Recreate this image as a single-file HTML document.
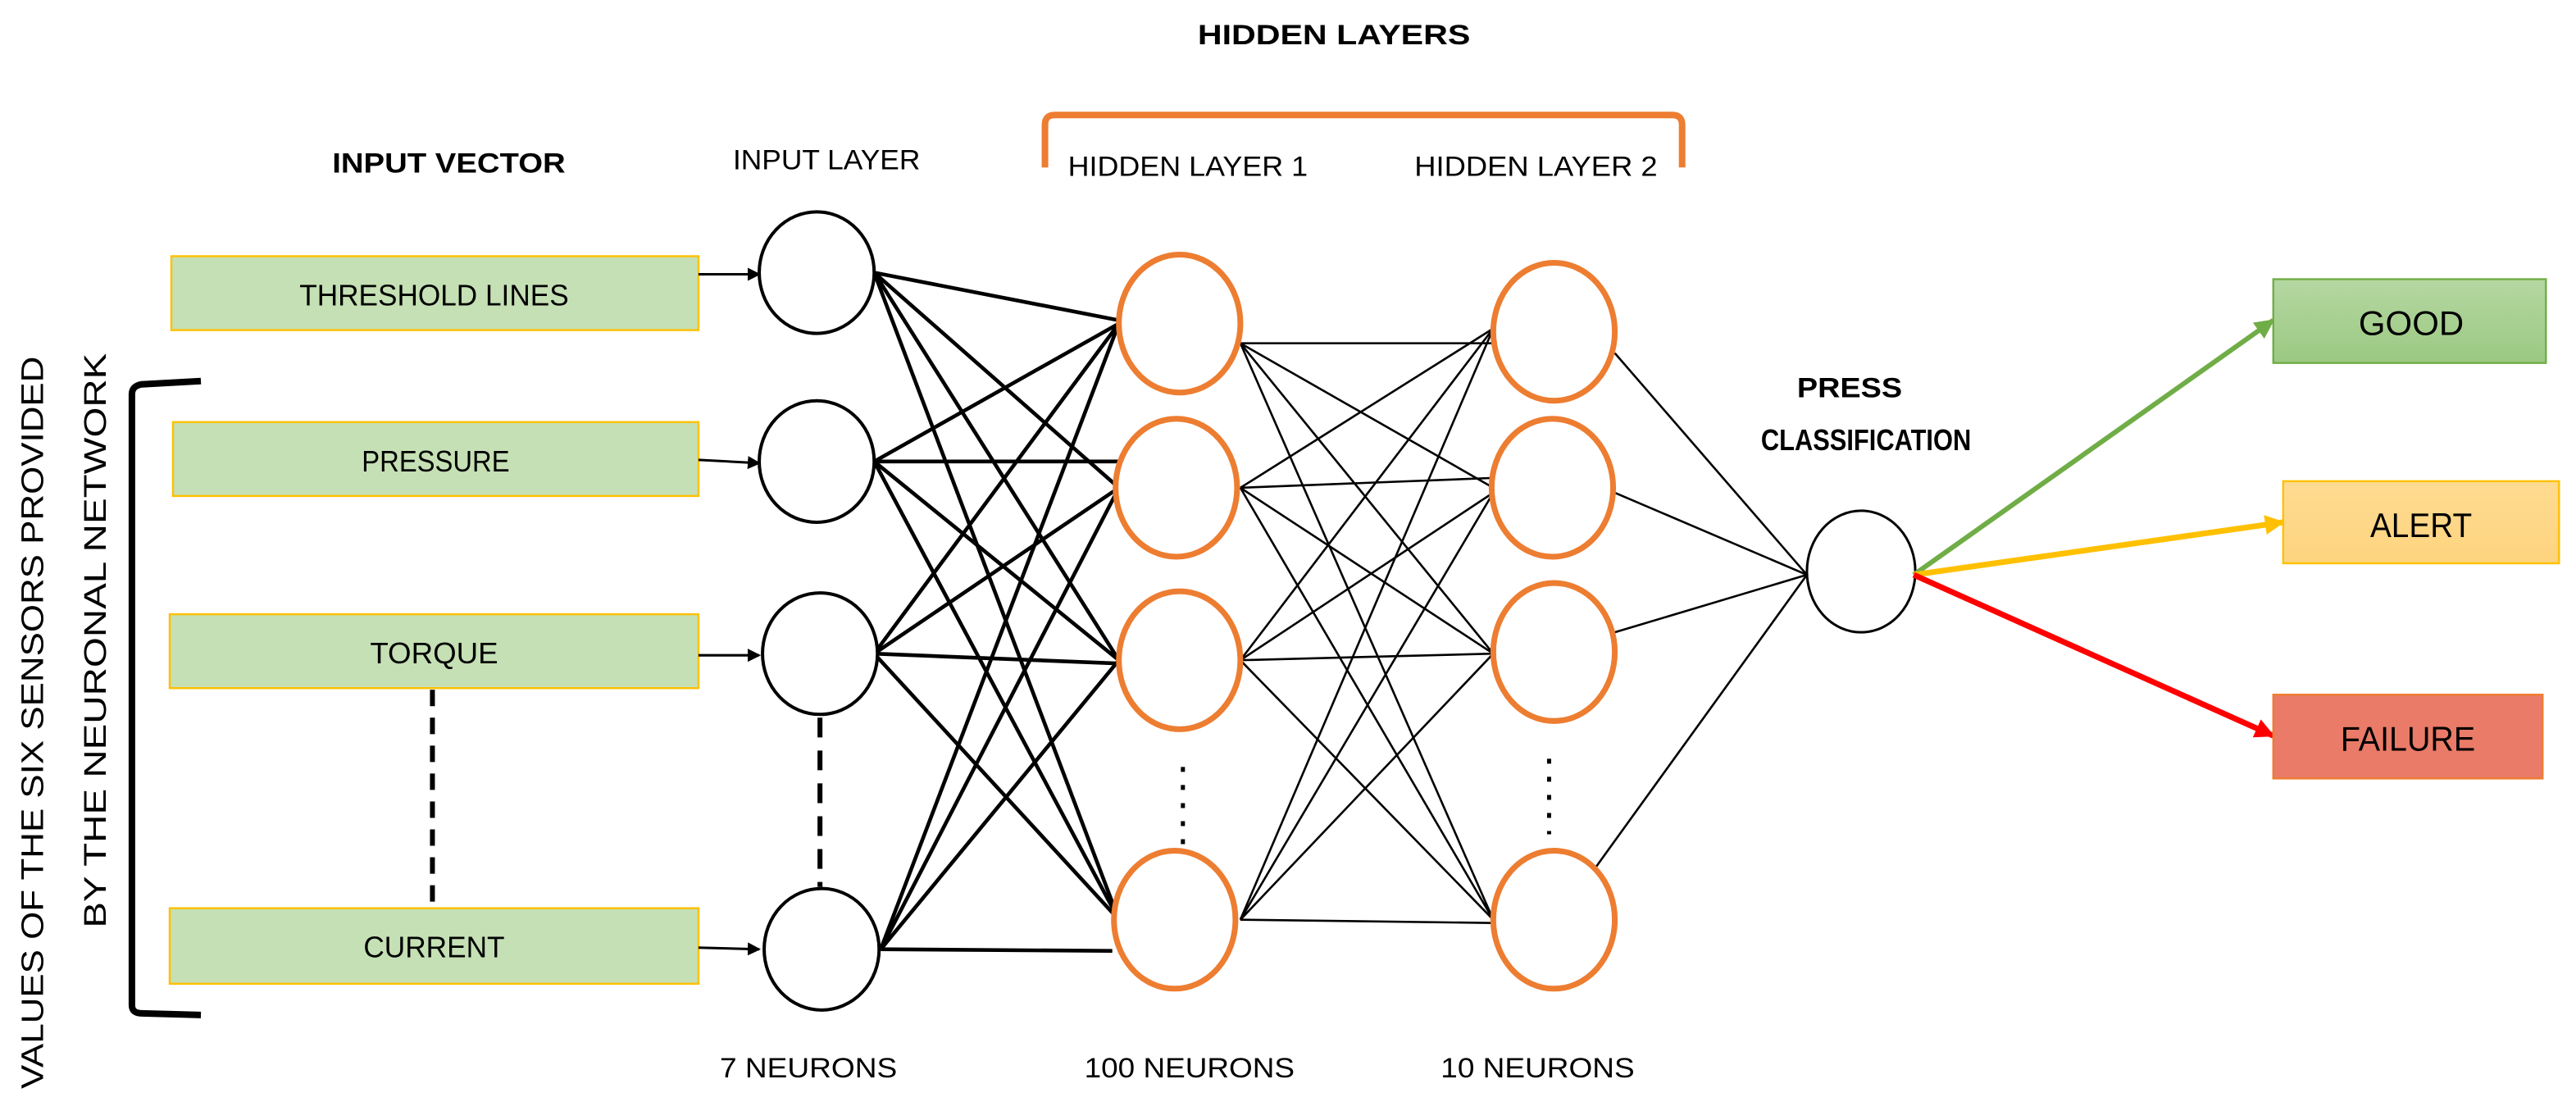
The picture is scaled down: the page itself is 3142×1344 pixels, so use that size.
<!DOCTYPE html>
<html><head><meta charset="utf-8"><style>
html,body{margin:0;padding:0;background:#fff;}
svg{display:block;}
text{font-family:"Liberation Sans",sans-serif;fill:#000;}
</style></head><body>
<svg width="3142" height="1344" viewBox="0 0 1568 671" xmlns="http://www.w3.org/2000/svg">
<defs>
<marker id="ab" markerWidth="8" markerHeight="8" refX="7" refY="4" orient="auto" markerUnits="userSpaceOnUse"><path d="M0,0 L8,4 L0,8 z" fill="#000"/></marker>
<marker id="ag" markerWidth="12" markerHeight="12" refX="11" refY="6" orient="auto" markerUnits="userSpaceOnUse"><path d="M0,0 L12,6 L0,12 z" fill="#70ad47"/></marker>
<marker id="ay" markerWidth="12" markerHeight="12" refX="11" refY="6" orient="auto" markerUnits="userSpaceOnUse"><path d="M0,0 L12,6 L0,12 z" fill="#ffc000"/></marker>
<marker id="ar" markerWidth="12" markerHeight="12" refX="11" refY="6" orient="auto" markerUnits="userSpaceOnUse"><path d="M0,0 L12,6 L0,12 z" fill="#ff0000"/></marker>
<linearGradient id="gg" x1="0" y1="0" x2="0" y2="1"><stop offset="0" stop-color="#b5d7a2"/><stop offset="1" stop-color="#9bc982"/></linearGradient>
<linearGradient id="gy" x1="0" y1="0" x2="0" y2="1"><stop offset="0" stop-color="#ffdb91"/><stop offset="1" stop-color="#fdd47f"/></linearGradient>
</defs>

<text x="812" y="27" font-size="17" font-weight="bold" text-anchor="middle" textLength="166" lengthAdjust="spacingAndGlyphs">HIDDEN LAYERS</text>
<path d="M636,102 L636,76 Q636,70 642,70 L1018,70 Q1024,70 1024,76 L1024,102" fill="none" stroke="#ed7d31" stroke-width="4"/>
<text x="273" y="105" font-size="17" font-weight="bold" text-anchor="middle" textLength="142" lengthAdjust="spacingAndGlyphs">INPUT  VECTOR</text>
<text x="503" y="103" font-size="17" text-anchor="middle" textLength="114" lengthAdjust="spacingAndGlyphs">INPUT LAYER</text>
<text x="723" y="107" font-size="17" text-anchor="middle" textLength="146" lengthAdjust="spacingAndGlyphs">HIDDEN LAYER 1</text>
<text x="935" y="107" font-size="17" text-anchor="middle" textLength="148" lengthAdjust="spacingAndGlyphs">HIDDEN LAYER 2</text>

<g fill="#c5e0b4" stroke="#ffc000" stroke-width="1.2">
<rect x="104" y="156" width="321" height="45"/>
<rect x="105" y="257" width="320" height="45"/>
<rect x="103" y="374" width="322" height="45"/>
<rect x="103" y="553" width="322" height="46"/>
</g>
<g font-size="18" text-anchor="middle">
<text x="264" y="186" textLength="164" lengthAdjust="spacingAndGlyphs">THRESHOLD LINES</text>
<text x="265" y="287" textLength="90" lengthAdjust="spacingAndGlyphs">PRESSURE</text>
<text x="264" y="404" textLength="78" lengthAdjust="spacingAndGlyphs">TORQUE</text>
<text x="264" y="583" textLength="86" lengthAdjust="spacingAndGlyphs">CURRENT</text>
</g>
<g stroke="#000" stroke-width="1.5" marker-end="url(#ab)">
<line x1="425" y1="167" x2="462" y2="167"/>
<line x1="425" y1="280" x2="462" y2="282"/>
<line x1="425" y1="399" x2="462" y2="399"/>
<line x1="425" y1="577" x2="462" y2="578"/>
</g>
<line x1="263" y1="420" x2="263" y2="553" stroke="#000" stroke-width="3" stroke-dasharray="10,7"/>
<line x1="499" y1="437" x2="499" y2="540" stroke="#000" stroke-width="3" stroke-dasharray="12,8"/>
<path d="M122,232 L86,234 Q80,235 80,240 L80,612 Q80,617 86,617 L122,618" fill="none" stroke="#000" stroke-width="4"/>
<text transform="translate(26,440) rotate(-90)" font-size="19" text-anchor="middle" textLength="446" lengthAdjust="spacingAndGlyphs">VALUES OF THE SIX SENSORS PROVIDED</text>
<text transform="translate(64,390) rotate(-90)" font-size="19" text-anchor="middle" textLength="350" lengthAdjust="spacingAndGlyphs">BY THE NEURONAL NETWORK</text>

<g stroke="#000" stroke-width="2.3">
<line x1="532" y1="166" x2="681" y2="195"/><line x1="532" y1="166" x2="681" y2="297"/><line x1="532" y1="166" x2="681" y2="402"/><line x1="532" y1="166" x2="681" y2="560"/>
<line x1="532" y1="281" x2="681" y2="197"/><line x1="532" y1="281" x2="681" y2="281"/><line x1="532" y1="281" x2="681" y2="402"/><line x1="532" y1="281" x2="681" y2="560"/>
<line x1="532" y1="398" x2="681" y2="197"/><line x1="532" y1="398" x2="681" y2="297"/><line x1="532" y1="398" x2="681" y2="404"/><line x1="532" y1="398" x2="681" y2="560"/>
<line x1="536" y1="578" x2="681" y2="197"/><line x1="536" y1="578" x2="681" y2="297"/><line x1="536" y1="578" x2="681" y2="402"/><line x1="536" y1="578" x2="677" y2="579"/>
</g>
<g stroke="#000" stroke-width="1.3">
<line x1="755" y1="209" x2="909" y2="209"/><line x1="755" y1="209" x2="909" y2="297"/><line x1="755" y1="209" x2="909" y2="398"/><line x1="755" y1="209" x2="909" y2="560"/>
<line x1="755" y1="297" x2="909" y2="200"/><line x1="755" y1="297" x2="909" y2="291"/><line x1="755" y1="297" x2="909" y2="398"/><line x1="755" y1="297" x2="909" y2="560"/>
<line x1="755" y1="402" x2="909" y2="200"/><line x1="755" y1="402" x2="909" y2="300"/><line x1="755" y1="402" x2="909" y2="398"/><line x1="755" y1="402" x2="909" y2="560"/>
<line x1="755" y1="560" x2="909" y2="200"/><line x1="755" y1="560" x2="909" y2="300"/><line x1="755" y1="560" x2="909" y2="398"/><line x1="755" y1="560" x2="909" y2="562"/>
<line x1="983" y1="215" x2="1100" y2="350"/><line x1="983" y1="300" x2="1100" y2="350"/><line x1="983" y1="385" x2="1100" y2="350"/><line x1="970" y1="530" x2="1100" y2="350"/>
</g>

<g fill="#fff" stroke="#000" stroke-width="2">
<ellipse cx="497" cy="166" rx="35" ry="37"/>
<ellipse cx="497" cy="281" rx="35" ry="37"/>
<ellipse cx="499" cy="398" rx="35" ry="37"/>
<ellipse cx="500" cy="578" rx="35" ry="37"/>
<ellipse cx="1133" cy="348" rx="33" ry="37" stroke-width="1.5"/>
</g>
<g fill="#fff" stroke="#ed7d31" stroke-width="3.5">
<ellipse cx="718" cy="197" rx="37" ry="42"/>
<ellipse cx="716" cy="297" rx="37" ry="42"/>
<ellipse cx="718" cy="402" rx="37" ry="42"/>
<ellipse cx="715" cy="560" rx="37" ry="42"/>
<ellipse cx="946" cy="202" rx="37" ry="42"/>
<ellipse cx="945" cy="297" rx="37" ry="42"/>
<ellipse cx="946" cy="397" rx="37" ry="42"/>
<ellipse cx="946" cy="560" rx="37" ry="42"/>
</g>
<line x1="720" y1="467" x2="720" y2="520" stroke="#000" stroke-width="2.5" stroke-dasharray="3,8"/>
<line x1="943" y1="462" x2="943" y2="508" stroke="#000" stroke-width="2.5" stroke-dasharray="3,8"/>

<text x="1126" y="242" font-size="17" font-weight="bold" text-anchor="middle" textLength="64" lengthAdjust="spacingAndGlyphs">PRESS</text>
<text x="1136" y="274" font-size="18" font-weight="bold" text-anchor="middle" textLength="128" lengthAdjust="spacingAndGlyphs">CLASSIFICATION</text>

<line x1="1165" y1="350" x2="1384" y2="195" stroke="#70ad47" stroke-width="3" marker-end="url(#ag)"/>
<line x1="1165" y1="350" x2="1390" y2="318" stroke="#ffc000" stroke-width="3.5" marker-end="url(#ay)"/>
<line x1="1165" y1="350" x2="1384" y2="448" stroke="#ff0000" stroke-width="3.5" marker-end="url(#ar)"/>

<rect x="1384" y="170" width="166" height="51" fill="url(#gg)" stroke="#70ad47" stroke-width="1.2"/>
<rect x="1390" y="293" width="168" height="50" fill="url(#gy)" stroke="#ffc000" stroke-width="1.2"/>
<rect x="1384" y="423" width="164" height="51" fill="#e97b68" stroke="#ed7d31" stroke-width="1.2"/>
<g font-size="21" text-anchor="middle">
<text x="1468" y="204" textLength="64" lengthAdjust="spacingAndGlyphs">GOOD</text>
<text x="1474" y="327" textLength="62" lengthAdjust="spacingAndGlyphs">ALERT</text>
<text x="1466" y="457" textLength="82" lengthAdjust="spacingAndGlyphs">FAILURE</text>
</g>

<g font-size="17" text-anchor="middle">
<text x="492" y="656" textLength="108" lengthAdjust="spacingAndGlyphs">7 NEURONS</text>
<text x="724" y="656" textLength="128" lengthAdjust="spacingAndGlyphs">100 NEURONS</text>
<text x="936" y="656" textLength="118" lengthAdjust="spacingAndGlyphs">10 NEURONS</text>
</g>
</svg>
</body></html>
